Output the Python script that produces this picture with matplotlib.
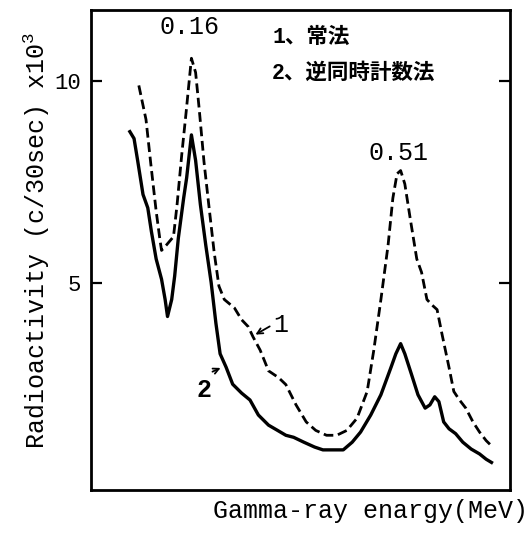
import matplotlib
matplotlib.use("Agg")
import matplotlib.pyplot as plt

plt.rcParams['font.family'] = ['Liberation Mono', 'Noto Sans CJK JP']
plt.rcParams['mathtext.fontset'] = 'custom'
plt.rcParams['mathtext.rm'] = 'Liberation Mono'

# gamma-ray spectrum, conventional counting (curve 1)
energy_conv = [0.072, 0.084, 0.092, 0.101, 0.107, 0.110, 0.118, 0.130, 0.136, 0.144,
               0.151, 0.155, 0.160, 0.167, 0.173, 0.181, 0.189, 0.198, 0.206, 0.215,
               0.232, 0.244, 0.255, 0.263, 0.275, 0.289, 0.306, 0.318, 0.335, 0.352,
               0.368, 0.386, 0.403, 0.420, 0.437, 0.454, 0.465, 0.477, 0.489, 0.497,
               0.504, 0.510, 0.517, 0.526, 0.537, 0.545, 0.554, 0.562, 0.571, 0.579,
               0.591, 0.599, 0.608, 0.619, 0.631, 0.642, 0.653, 0.664]
counts_conv = [9.88, 9.04, 7.95, 6.78, 6.11, 5.81, 5.94, 6.15, 6.94, 8.2,
               9.2, 9.8, 10.55, 10.2, 9.3, 8.0, 6.94, 5.77, 4.93, 4.6,
               4.39, 4.1, 3.93, 3.68, 3.35, 2.84, 2.67, 2.5, 2.0, 1.58,
               1.37, 1.25, 1.25, 1.37, 1.67, 2.33, 3.34, 4.6, 5.94, 7.1,
               7.7, 7.78, 7.45, 6.6, 5.6, 5.27, 4.6, 4.47, 4.35, 3.76,
               2.92, 2.33, 2.13, 1.92, 1.58, 1.33, 1.12, 0.96]

# anti-coincidence counting (curve 2)
energy_anti = [0.057, 0.064, 0.070, 0.079, 0.087, 0.093, 0.101, 0.110, 0.116, 0.120,
               0.127, 0.132, 0.138, 0.147, 0.152, 0.160, 0.167, 0.175, 0.184, 0.193,
               0.201, 0.208, 0.218, 0.229, 0.244, 0.258, 0.272, 0.289, 0.303, 0.318,
               0.331, 0.348, 0.366, 0.380, 0.397, 0.414, 0.429, 0.443, 0.460, 0.477,
               0.494, 0.502, 0.510, 0.517, 0.528, 0.539, 0.551, 0.559, 0.567, 0.574,
               0.582, 0.591, 0.602, 0.614, 0.628, 0.642, 0.653, 0.662]
counts_anti = [8.74, 8.57, 8.03, 7.19, 6.86, 6.28, 5.6, 5.1, 4.6, 4.18,
               4.6, 5.18, 6.1, 7.1, 7.6, 8.66, 8.03, 6.94, 5.94, 5.02,
               4.01, 3.26, 2.93, 2.51, 2.29, 2.12, 1.75, 1.5, 1.38, 1.25,
               1.2, 1.08, 0.96, 0.89, 0.89, 0.89, 1.08, 1.33, 1.75, 2.25,
               2.93, 3.26, 3.51, 3.26, 2.76, 2.25, 1.92, 2.0, 2.2, 2.08,
               1.58, 1.41, 1.29, 1.08, 0.91, 0.79, 0.66, 0.58]

peak_energies = [0.16, 0.51]
y_ticks = [5, 10]
legend_lines = ["1、常法", "2、逆同時計数法"]

fig = plt.figure(figsize=(5.3, 5.36), dpi=100)
ax = fig.add_axes([0.1717, 0.0858, 0.7906, 0.8955])

ax.plot(energy_conv, counts_conv, color='black', lw=2.0, ls=(0, (3.5, 1.7)))
ax.plot(energy_anti, counts_anti, color='black', lw=2.4, solid_joinstyle='round')

ax.set_xlim(-0.008, 0.693)
ax.set_ylim(-0.1, 11.74)

ax.set_xticks([])
ax.set_yticks(y_ticks)
ax.set_yticklabels([str(t) for t in y_ticks])
ax.tick_params(axis='y', direction='in', length=8, width=1.6, labelsize=16,
               right=True, pad=7)
for s in ax.spines.values():
    s.set_linewidth(2.0)

# peak energy labels
ax.text(0.156, 11.32, f"{peak_energies[0]:.2f}", ha='center', va='center', fontsize=18)
ax.text(0.507, 8.21, f"{peak_energies[1]:.2f}", ha='center', va='center', fontsize=18)

# curve markers with little arrows
ax.text(0.310, 3.97, "1", ha='center', va='center', fontsize=18)
ax.annotate("", xy=(0.263, 3.70), xytext=(0.295, 3.97),
            arrowprops=dict(arrowstyle='->', lw=1.3, color='black'))
ax.text(0.181, 2.37, "2", ha='center', va='center', fontsize=18, fontweight='bold')
ax.annotate("", xy=(0.213, 2.94), xytext=(0.191, 2.79),
            arrowprops=dict(arrowstyle='->', lw=1.3, color='black'))

# method key
ax.text(0.295, 11.07, legend_lines[0], ha='left', va='center', fontsize=15.5, fontweight='bold')
ax.text(0.295, 10.19, legend_lines[1], ha='left', va='center', fontsize=15.5, fontweight='bold')

ax.set_ylabel(r"Radioactivity (c/30sec) x10$^{3}$", fontsize=18)
ax.yaxis.set_label_coords(-0.092, 0.519)
ax.set_xlabel("Gamma-ray enargy(MeV)", fontsize=18)
ax.xaxis.set_label_coords(0.666, -0.018)

fig.savefig("out.png", dpi=100)
